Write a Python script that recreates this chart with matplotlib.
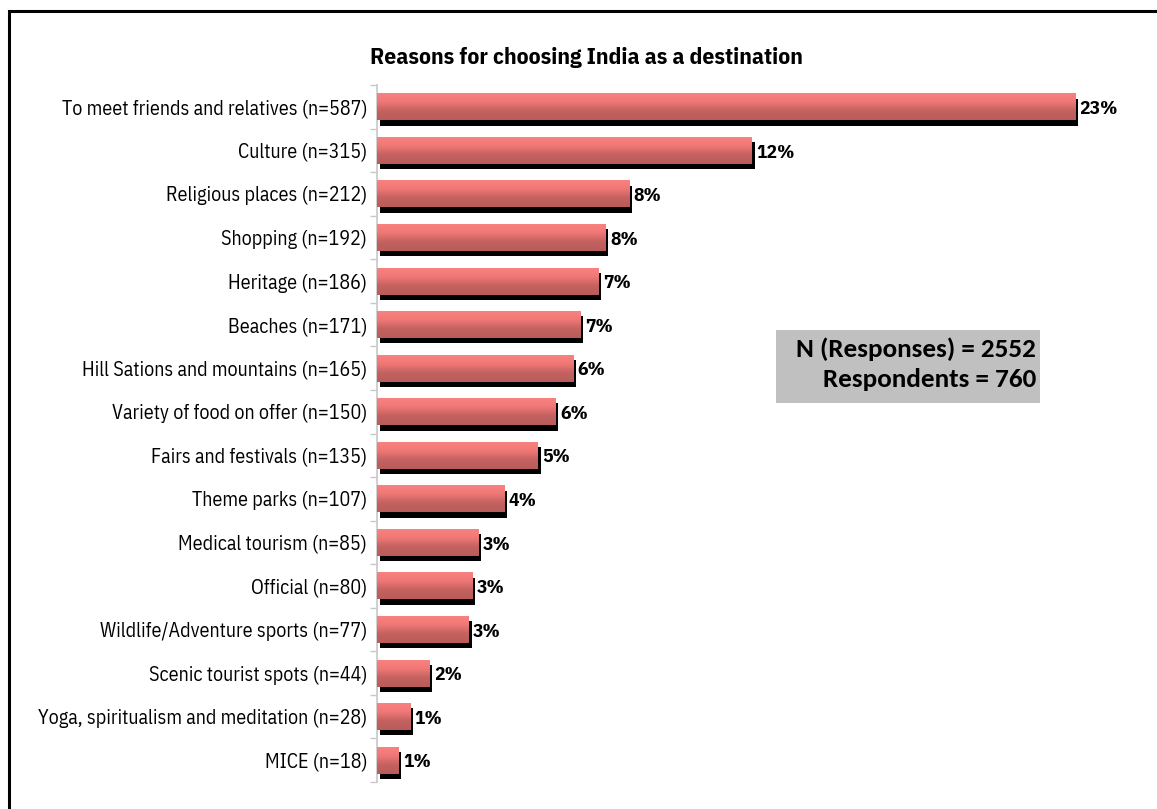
import matplotlib.pyplot as plt
import matplotlib.patheffects as pe
from matplotlib.colors import LinearSegmentedColormap
from matplotlib.patches import Rectangle
from matplotlib.ticker import FixedLocator
import numpy as np

plt.rcParams['font.family'] = ['IBM Plex Sans Condensed', 'DejaVu Sans']

reasons = ['To meet friends and relatives', 'Culture', 'Religious places', 'Shopping',
           'Heritage', 'Beaches', 'Hill Sations and mountains', 'Variety of food on offer',
           'Fairs and festivals', 'Theme parks', 'Medical tourism', 'Official',
           'Wildlife/Adventure sports', 'Scenic tourist spots',
           'Yoga, spiritualism and meditation', 'MICE']
counts = [587, 315, 212, 192, 186, 171, 165, 150, 135, 107, 85, 80, 77, 44, 28, 18]
total_responses = 2552
respondents = 760

shares = [c / total_responses * 100 for c in counts]
labels = [f'{r} (n={c})' for r, c in zip(reasons, counts)]

W, H = 1157, 809
fig = plt.figure(figsize=(W / 100, H / 100), dpi=100)
ax = fig.add_axes([377 / W, 1 - 782 / H, (1148 - 377) / W, (782 - 85) / H])

# outer frame (only top and left edges fall inside the canvas)
fig.patches.append(Rectangle((9 / W, -0.1), 1.2, 1 - 11 / H + 0.1, transform=fig.transFigure,
                             fill=False, edgecolor='black', linewidth=2.2, zorder=0))

cmap = LinearSegmentedColormap.from_list('barfade', ['#fa8280', '#f07876', '#c46260', '#b85c5a'])
grad = np.linspace(0, 1, 64).reshape(-1, 1)
h = 0.62

bars = ax.barh(range(len(shares)), shares, height=h, color='#d46c6a', linewidth=0, zorder=2)
for i, (b, v) in enumerate(zip(bars, shares)):
    b.set_path_effects([pe.SimplePatchShadow(offset=(2.2, -3.8), shadow_rgbFace='black', alpha=1.0),
                        pe.Normal()])
    im = ax.imshow(grad, extent=(0, v, i + h / 2, i - h / 2), aspect='auto', cmap=cmap,
                   origin='upper', zorder=3, interpolation='bilinear')
    im.set_clip_path(b)
    ax.text(v + 0.15, i + 0.05, f'{v:.0f}%', va='center', ha='left', fontsize=14, fontweight='bold')

ax.set_xlim(0, 25.4)
ax.set_ylim(len(shares) - 0.5, -0.5)
ax.set_yticks(range(len(shares)))
ax.set_yticklabels(labels, fontsize=14.4)
ax.tick_params(axis='y', which='major', length=0, pad=7)
ax.yaxis.set_minor_locator(FixedLocator(np.arange(-0.5, len(shares), 1)))
ax.tick_params(axis='y', which='minor', length=5, color='#c8c8c8', width=1)
ax.set_xticks([])
for s in ['top', 'right', 'bottom']:
    ax.spines[s].set_visible(False)
ax.spines['left'].set_color('#c8c8c8')
ax.spines['left'].set_linewidth(1.2)

fig.text(586 / W, 1 - 57 / H, 'Reasons for choosing India as a destination',
         ha='center', va='center', fontsize=16.9, fontweight='bold')

fig.patches.append(Rectangle((776 / W, 1 - 403 / H), (1040 - 776) / W, (403 - 330) / H,
                             transform=fig.transFigure, facecolor='#c0c0c0', edgecolor='none'))
fig.text(1036 / W, 1 - 364 / H, f'N (Responses) = {total_responses}\nRespondents = {respondents}',
         ha='right', va='center', fontsize=19.5, fontweight='bold', family=['Carlito', 'Lato', 'DejaVu Sans'],
         linespacing=1.35)

fig.savefig('out.png', dpi=100)
